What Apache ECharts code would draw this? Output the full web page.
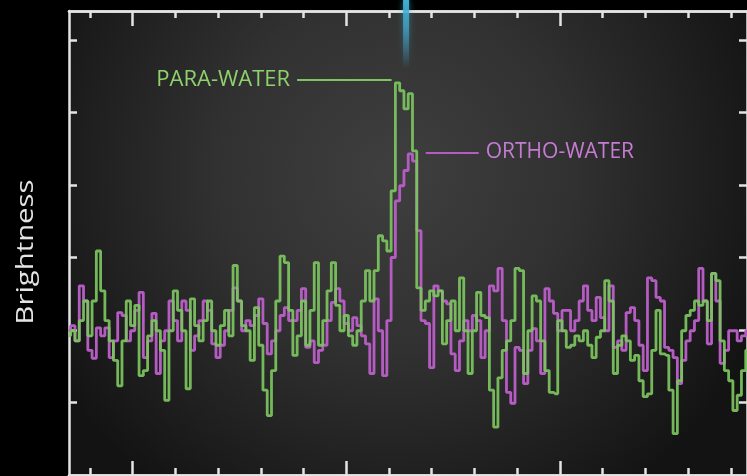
<!DOCTYPE html>
<html>
<head>
<meta charset="utf-8">
<script src="https://cdn.jsdelivr.net/npm/echarts@6/dist/echarts.min.js"></script>
<style>
  html, body { margin: 0; padding: 0; background: #000; }
  #chart { width: 747px; height: 476px; }
</style>
</head>
<body>
<div id="chart"></div>
<script>
// Spectrum channels (frequency bins); the first value below belongs to this channel
const firstChannel = 35;

// Para-water brightness per channel
const paraWater = [
  0.92, 0.99, 0.85, 1.13, 1.40, 0.92, 1.40, 2.09, 1.54, 1.13,
  0.85, 0.58, 0.23, 0.85, 1.40, 1.06, 1.34, 0.37, 0.44, 0.92,
  1.13, 0.99, 0.72, 0.03, 0.99, 1.54, 1.27, 0.99, 0.19, 1.43,
  1.06, 0.85, 1.13, 1.40, 0.99, 0.79, 1.06, 1.27, 0.92, 1.89,
  1.40, 1.06, 0.99, 0.58, 1.31, 0.79, 0.17, -0.18, 0.44, 1.40,
  2.02, 1.93, 1.27, 0.65, 0.92, 1.40, 0.79, 1.27, 1.93, 0.79,
  1.13, 1.54, 1.93, 1.34, 0.99, 1.20, 0.92, 0.79, 0.99, 1.40,
  1.82, 1.40, 1.82, 2.30, 2.23, 2.09, 2.92, 4.41, 4.30, 4.05,
  4.26, 3.47, 1.58, 1.27, 1.40, 1.54, 1.47, 1.54, 0.81, 1.13,
  1.40, 0.99, 1.72, 0.99, 0.40, 0.99, 1.52, 1.20, 1.17, 0.17,
  -0.34, 0.34, 0.72, 0.85, 1.13, 1.85, 1.82, 0.40, 0.99, 1.47,
  1.40, 0.85, 0.44, 0.14, 0.12, 1.13, 0.99, 0.76, 0.79, 0.92,
  0.85, 0.99, 0.79, 0.62, 0.90, 0.99, 1.68, 1.40, 0.40, 0.79,
  0.92, 0.85, 0.58, 0.65, 0.30, 0.08, 0.12, 0.72, 1.27, 0.67,
  0.65, 0.17, -0.43, 0.30, 0.99, 1.20, 1.27, 1.40, 1.34, 1.40,
  1.13, 1.78, 1.68, 0.85, 0.44, 0.30, -0.11, 0.10, 0.44, 0.72
];

// Ortho-water brightness per channel
const orthoWater = [
  0.99, 1.06, 0.85, 1.61, 1.40, 0.72, 0.61, 1.03, 0.92, 1.03,
  0.62, 0.85, 1.24, 1.20, 0.85, 0.99, 1.27, 1.52, 0.62, 0.85,
  1.23, 0.40, 0.85, 0.99, 1.40, 1.13, 0.85, 1.40, 1.27, 0.72,
  0.92, 1.13, 1.40, 1.27, 0.81, 0.62, 0.79, 0.99, 1.27, 1.58,
  1.40, 0.99, 1.13, 1.06, 1.20, 1.43, 1.09, 0.67, 0.85, 0.99,
  1.20, 1.31, 1.13, 1.13, 1.27, 1.57, 0.76, 0.85, 0.55, 0.72,
  0.79, 1.13, 1.38, 1.57, 1.40, 1.09, 0.99, 1.17, 1.06, 0.92,
  0.81, 0.40, 1.43, 0.99, 0.37, 1.13, 2.00, 2.78, 2.99, 3.20,
  3.43, 3.33, 2.37, 1.13, 1.09, 0.48, 1.61, 1.54, 1.40, 1.36,
  0.67, 0.44, 0.85, 1.13, 0.99, 1.20, 1.13, 0.62, 0.99, 1.61,
  1.54, 1.85, 1.13, 0.14, -0.01, 0.76, 0.72, 0.26, 0.72, 1.02,
  0.85, 0.40, 1.57, 1.40, 1.23, 0.99, 1.27, 1.27, 0.99, 1.13,
  1.40, 1.61, 1.27, 1.13, 1.45, 1.17, 0.99, 1.61, 0.76, 0.85,
  0.72, 1.24, 1.31, 1.13, 0.79, 0.44, 1.72, 1.68, 1.45, 1.40,
  0.76, 0.72, 0.62, 0.26, 0.58, 0.85, 0.99, 1.13, 1.85, 1.40,
  0.81, 1.78, 1.40, 0.54, 0.72, 0.99, 0.99, 0.85, 0.92, 0.99
];

// Tick marks on the frame
const xMinorTicks = [40, 50, 60, 70, 80, 90, 100, 110, 120, 130, 140, 150, 160, 170, 180, 190];
const xMajorTicks = [50, 100, 150];
const yTicks = [0, 1, 2, 3, 4, 5];

// Labels for the two lines
const paraName = 'PARA-WATER';
const orthoName = 'ORTHO-WATER';
const axisTitle = 'Brightness';

// Rest frequency of the water line (channel)
const restChannel = 114;

const X_MIN = 35.1, X_MAX = 193.8;
const Y_MIN = -1, Y_MAX = 5.4;

const GREEN = '#7cc660';
const MAGENTA = '#b45cc2';
const FRAME = '#e4e4e4';

const toPairs = arr => arr.map((v, i) => [firstChannel + i, v]);

function frameAxis(pos, ticks, len, extra) {
  return Object.assign({
    type: 'value',
    position: pos,
    axisLine: { show: true, onZero: false, lineStyle: { color: FRAME, width: 2.5 } },
    axisTick: { show: true, inside: true, length: len, customValues: ticks,
                lineStyle: { color: FRAME, width: 2.5 } },
    axisLabel: { show: false },
    splitLine: { show: false }
  }, extra);
}

const chart = echarts.init(document.getElementById('chart'), null, { renderer: 'canvas' });

const option = {
  backgroundColor: '#000',
  animation: false,
  grid: {
    left: 69, right: -3, top: 11, bottom: 1,
    show: true,
    borderWidth: 0,
    backgroundColor: {
      type: 'radial', x: 0.48, y: 0.35, r: 0.85,
      colorStops: [
        { offset: 0, color: '#3f3f3f' },
        { offset: 0.45, color: '#313131' },
        { offset: 0.8, color: '#1e1e1e' },
        { offset: 1, color: '#131313' }
      ]
    }
  },
  xAxis: [
    frameAxis('bottom', xMinorTicks, 7, { min: X_MIN, max: X_MAX }),
    frameAxis('bottom', xMajorTicks, 14, { min: X_MIN, max: X_MAX }),
    frameAxis('top', xMinorTicks, 7, { min: X_MIN, max: X_MAX }),
    frameAxis('top', xMajorTicks, 15, { min: X_MIN, max: X_MAX })
  ],
  yAxis: [
    frameAxis('left', yTicks, 8, { min: Y_MIN, max: Y_MAX }),
    frameAxis('right', yTicks, 8, { min: Y_MIN, max: Y_MAX })
  ],
  series: [
    {
      name: orthoName,
      type: 'line',
      step: 'middle',
      showSymbol: false,
      data: toPairs(orthoWater),
      lineStyle: { color: MAGENTA, width: 2.8 },
      z: 2,
      markLine: {
        silent: true,
        symbol: 'none',
        lineStyle: { color: MAGENTA, width: 2, type: 'solid' },
        label: {
          show: true, position: 'end', distance: 7,
          formatter: orthoName, color: '#c67bd4',
          fontFamily: 'Open Sans', fontSize: 21
        },
        data: [[{ coord: [118.6, 3.45] }, { coord: [131.0, 3.45] }]]
      }
    },
    {
      name: paraName,
      type: 'line',
      step: 'middle',
      showSymbol: false,
      data: toPairs(paraWater),
      lineStyle: { color: GREEN, width: 2.8, opacity: 0.92 },
      z: 3,
      markLine: {
        silent: true,
        symbol: 'none',
        lineStyle: { color: GREEN, width: 2, type: 'solid' },
        label: {
          show: true, position: 'start', distance: 7,
          formatter: paraName, color: '#8fd16c',
          fontFamily: 'Open Sans', fontSize: 22
        },
        data: [[{ coord: [88.5, 4.45] }, { coord: [110.6, 4.45] }]]
      }
    }
  ]
};

chart.setOption(option);

// Brightness title and the rest-frequency glow at the top edge
const glowX = chart.convertToPixel({ xAxisIndex: 0 }, restChannel);
chart.setOption({
  graphic: [
    {
      type: 'text',
      x: 26, y: 252,
      rotation: Math.PI / 2,
      scaleX: 1.22,
      style: {
        text: axisTitle,
        fill: '#e4e4e4',
        font: '24px "Open Sans"',
        align: 'center',
        verticalAlign: 'middle'
      }
    },
    {
      type: 'rect',
      z: 100,
      shape: { x: glowX - 3, y: 0, width: 6, height: 68 },
      style: {
        fill: {
          type: 'linear', x: 0, y: 0, x2: 0, y2: 1,
          colorStops: [
            { offset: 0, color: 'rgba(64,176,214,1)' },
            { offset: 0.4, color: 'rgba(64,176,214,0.7)' },
            { offset: 1, color: 'rgba(64,176,214,0)' }
          ]
        },
        shadowBlur: 6,
        shadowColor: 'rgba(64,176,214,0.6)'
      }
    }
  ]
});
</script>
</body>
</html>
